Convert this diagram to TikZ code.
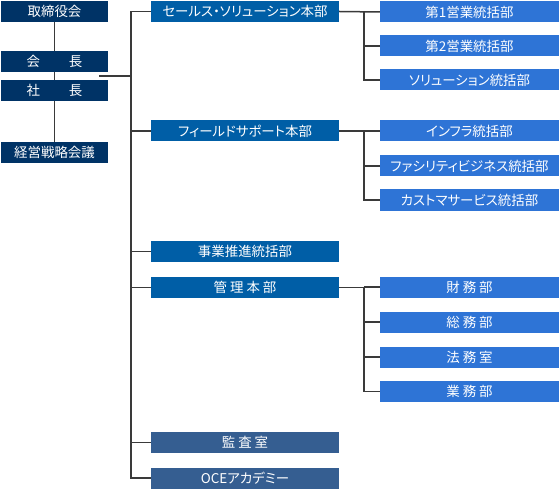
\documentclass[tikz,border=0pt]{standalone}
\usepackage{fontspec}
\setmainfont[RawFeature=+palt]{Noto Sans CJK JP}
\definecolor{navy}{HTML}{003366}
\definecolor{midblue}{HTML}{005EA6}
\definecolor{ltblue}{HTML}{2E74D6}
\definecolor{grayblue}{HTML}{355E91}
\definecolor{linegray}{HTML}{3A3A3A}
\begin{document}
\begin{tikzpicture}[x=1bp,y=-1bp,
  box/.style={fill=#1, text=white, minimum height=21bp, inner sep=0pt,
    font=\fontsize{13.5}{15}\selectfont, anchor=center},
  lbox/.style={box=navy, minimum width=107bp},
  mbox/.style={box=midblue, minimum width=188bp},
  gbox/.style={box=grayblue, minimum width=188bp},
  rbox/.style={box=ltblue, minimum width=179bp},
  conn/.style={draw=linegray, line width=1.5bp}]
\path[use as bounding box, fill=white] (0,0) rectangle (560,490);
\coordinate (trunk) at (131,0);
\coordinate (strunk) at (364,0);
\coordinate (lstart) at (99,76);
% left column
\node[lbox] (tori) at (54.5,11.5) {取締役会};
\node[lbox] (senr) at (54.5,152.5) {経営戦略会議};
\draw[conn] (tori.south) -- (senr.north);
\node[lbox] (kaicho) at (54.5,61.5) {会\hspace{29bp}長};
\node[lbox] (shacho) at (54.5,90.5) {社\hspace{29bp}長};
% middle column
\node[mbox] (sales) at (245,11.5) {セールス・ソリューション本部};
\node[mbox] (field) at (245,131) {フィールドサポート本部};
\node[mbox] (jigyo) at (245,251.5) {事業推進統括部};
\node[mbox] (kanri) at (245,287.5) {管\hspace{3bp}理\hspace{3bp}本\hspace{3bp}部};
\node[gbox] (kansa) at (245,442.5) {監\hspace{3bp}査\hspace{3bp}室};
\node[gbox] (oce) at (245,478) {OCEアカデミー};
% right column
\node[rbox] (r1) at (469.5,12) {第1営業統括部};
\node[rbox] (r2) at (469.5,46) {第2営業統括部};
\node[rbox] (r3) at (469.5,80) {ソリューション統括部};
\node[rbox] (r4) at (469.5,131) {インフラ統括部};
\node[rbox] (r5) at (469.5,166) {ファシリティビジネス統括部};
\node[rbox] (r6) at (469.5,200) {カストマサービス統括部};
\node[rbox] (r7) at (469.5,287) {財\hspace{3bp}務\hspace{3bp}部};
\node[rbox] (r8) at (469.5,322) {総\hspace{3bp}務\hspace{3bp}部};
\node[rbox] (r9) at (469.5,357) {法\hspace{3bp}務\hspace{3bp}室};
\node[rbox] (r10) at (469.5,391.5) {業\hspace{3bp}務\hspace{3bp}部};
% connectors
\draw[conn] (lstart) -- (lstart -| trunk);
\draw[conn] (sales.west) -- (sales.west -| trunk) |- (oce.west);
\foreach \n in {field,jigyo,kanri,kansa}
  \draw[conn] (\n.west) -- (\n.west -| trunk);
\draw[conn] (sales.east) -- (r1.west);
\draw[conn] (sales.east -| strunk) |- (r3.west);
\draw[conn] (r2.west) -- (r2.west -| strunk);
\draw[conn] (field.east) -- (r4.west);
\draw[conn] (field.east -| strunk) |- (r6.west);
\draw[conn] (r5.west) -- (r5.west -| strunk);
\draw[conn] (kanri.east) -- (kanri.east -| strunk) |- (r10.west);
\draw[conn] (r7.west) -- (r7.west -| strunk);
\draw[conn] (r8.west) -- (r8.west -| strunk);
\draw[conn] (r9.west) -- (r9.west -| strunk);
\end{tikzpicture}
\end{document}
